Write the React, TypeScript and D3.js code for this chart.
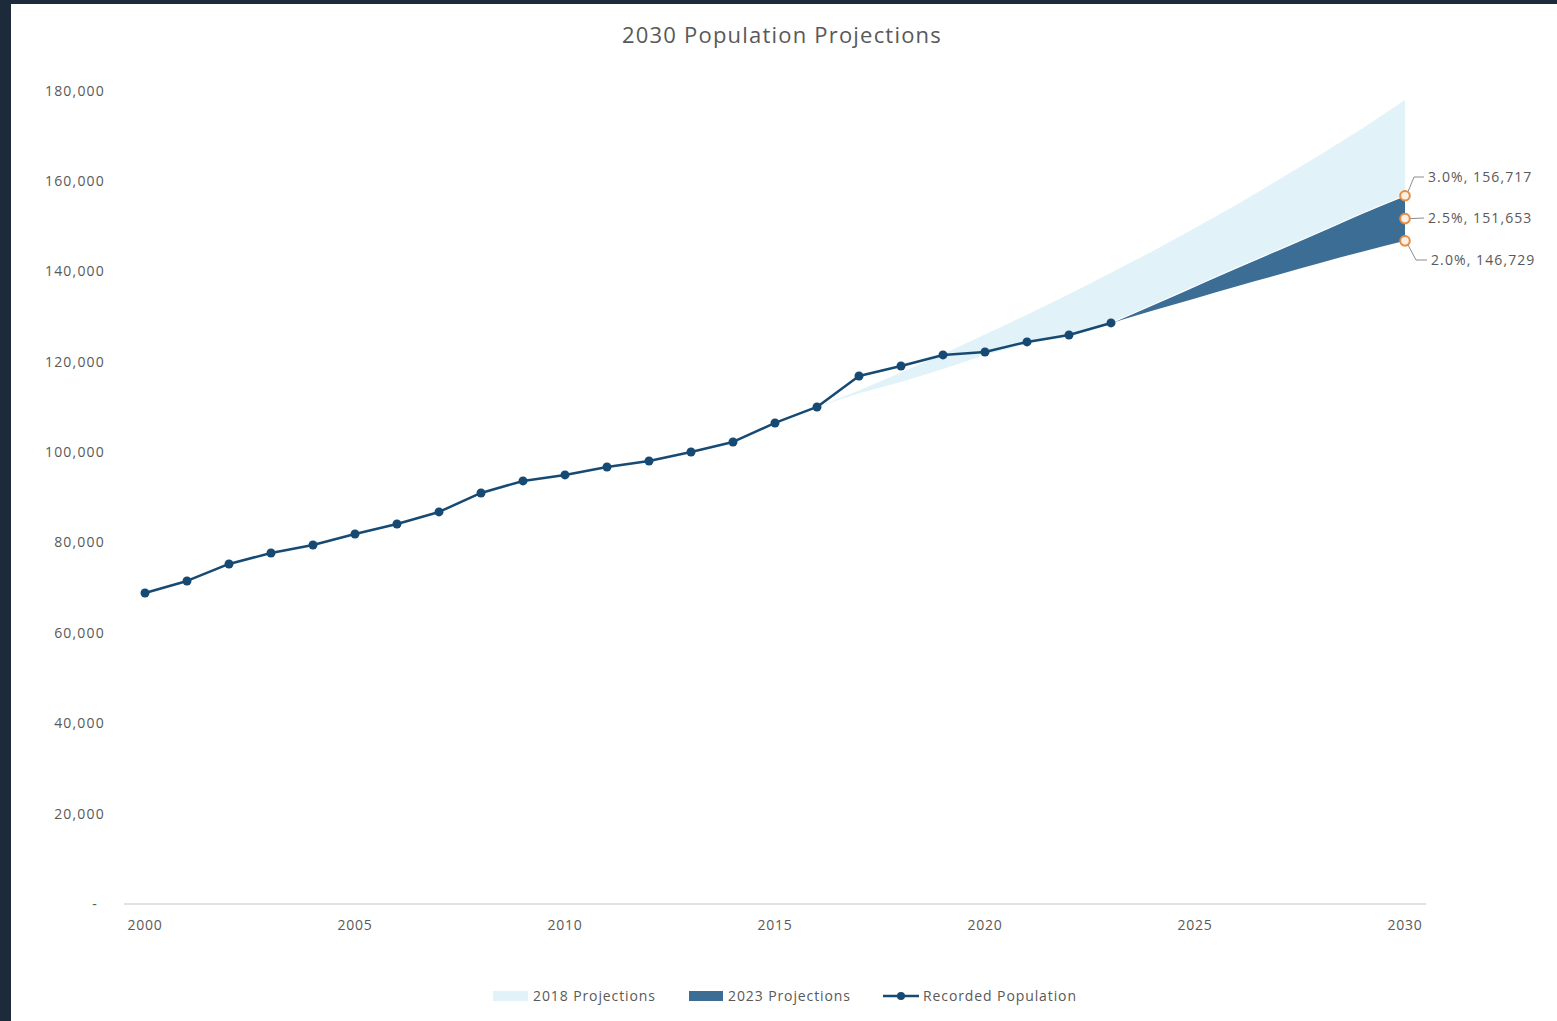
import React from "react";
import * as d3 from "d3";

const recordedYears = [2000, 2001, 2002, 2003, 2004, 2005, 2006, 2007, 2008, 2009, 2010, 2011, 2012, 2013, 2014, 2015, 2016, 2017, 2018, 2019, 2020, 2021, 2022, 2023];
const recordedPop = [68820, 71480, 75240, 77670, 79440, 81870, 84090, 86750, 90950, 93610, 94940, 96700, 98030, 100020, 102230, 106440, 109980, 116840, 119050, 121490, 122150, 124370, 125910, 128570];

const proj2018Years = [2016, 2017, 2018, 2019, 2020, 2021, 2022, 2023, 2024, 2025, 2026, 2027, 2028, 2029, 2030];
const proj2018Low = [109980, 113000, 115500, 118400, 121500, 124000, 125600, 128300, 131900, 135300, 138700, 142000, 145300, 148600, 151653];
const proj2018High = [109980, 113600, 117600, 121700, 126000, 130400, 134900, 139700, 144500, 149600, 154800, 160300, 165900, 171700, 177900];

const proj2023Years = [2023, 2024, 2025, 2026, 2027, 2028, 2029, 2030];
const proj2023Low = [128570, 131300, 134000, 136700, 139300, 141900, 144400, 146729];
const proj2023High = [128570, 132600, 136700, 140800, 144800, 148800, 152900, 156717];

const endRates = ["3.0%", "2.5%", "2.0%"];
const endValues = [156717, 151653, 146729];

const yTicks = [0, 20000, 40000, 60000, 80000, 100000, 120000, 140000, 160000, 180000];
const xTicks = [2000, 2005, 2010, 2015, 2020, 2025, 2030];

const legendItems = ["2018 Projections", "2023 Projections", "Recorded Population"];

export default function App() {
  const W = 1557;
  const H = 1021;
  const x = d3.scaleLinear().domain([2000, 2030]).range([145, 1405]);
  const y = d3.scaleLinear().domain([0, 180000]).range([904, 90.5]);

  const font = "'Open Sans', 'Noto Sans', sans-serif";
  const gray = "#595959";
  const lineColor = "#174a73";
  const darkBand = "#3c6d94";
  const lightBand = "#e2f2f9";
  const orange = "#e48d45";

  const band18 = d3
    .area<number>()
    .x((_, i) => x(proj2018Years[i]))
    .y0((_, i) => y(proj2018Low[i]))
    .y1((_, i) => y(proj2018High[i]))
    .curve(d3.curveLinear)(proj2018Years);

  const band23 = d3
    .area<number>()
    .x((_, i) => x(proj2023Years[i]))
    .y0((_, i) => y(proj2023Low[i]))
    .y1((_, i) => y(proj2023High[i]))
    .curve(d3.curveMonotoneX)(proj2023Years);

  const band23Top = d3
    .line<number>()
    .x((_, i) => x(proj2023Years[i]))
    .y((_, i) => y(proj2023High[i]))
    .curve(d3.curveMonotoneX)(proj2023Years);

  const recLine = d3
    .line<number>()
    .x((_, i) => x(recordedYears[i]))
    .y((_, i) => y(recordedPop[i]))(recordedYears);

  const fmt = d3.format(",");
  const x2030 = x(2030);

  const labelY = [177, 218, 260];
  const labelX = [1428, 1428, 1431];

  return (
    <svg width={W} height={H} style={{ position: "absolute", left: 0, top: 0 }} fontFamily={font}>
      <rect x={0} y={0} width={W} height={H} fill="#1d2a3a" />
      <rect x={11} y={4} width={W - 11} height={H - 4} fill="#ffffff" />

      <text x={782} y={43} textAnchor="middle" fontSize={22} fill={gray} letterSpacing={1.2}>
        2030 Population Projections
      </text>

      {yTicks.map((t) => (
        <text
          key={t}
          x={t === 0 ? 98 : 105}
          y={y(t) + 5}
          textAnchor="end"
          fontSize={14}
          fill={gray}
          letterSpacing={1.2}
        >
          {t === 0 ? "-" : fmt(t)}
        </text>
      ))}

      <line x1={124} x2={1426} y1={y(0)} y2={y(0)} stroke="#d9d9d9" strokeWidth={1.5} />
      {xTicks.map((t) => (
        <text key={t} x={x(t)} y={930} textAnchor="middle" fontSize={14} fill={gray} letterSpacing={0.8}>
          {t}
        </text>
      ))}

      <path d={band18 || ""} fill={lightBand} />
      <path d={band23 || ""} fill={darkBand} />
      <path d={band23Top || ""} fill="none" stroke="#ffffff" strokeWidth={1.2} />

      <path d={recLine || ""} fill="none" stroke={lineColor} strokeWidth={2.5} strokeLinejoin="round" />
      {recordedYears.map((yr, i) => (
        <circle key={yr} cx={x(yr)} cy={y(recordedPop[i])} r={4.5} fill={lineColor} />
      ))}

      {endValues.map((v, i) => {
        const cy = y(v);
        const ly = labelY[i];
        let d = "";
        if (i === 0) d = `M${x2030 + 3},${cy - 4} L${x2030 + 9},${ly} L${labelX[i] - 4},${ly}`;
        else if (i === 1) d = `M${x2030 + 5},${cy} L${labelX[i] - 4},${ly}`;
        else d = `M${x2030 + 3},${cy + 4} L${x2030 + 11},${ly} L${labelX[i] - 4},${ly}`;
        return (
          <g key={i}>
            <path d={d} fill="none" stroke="#8c8c8c" strokeWidth={1} />
            <circle cx={x2030} cy={cy} r={4.8} fill="#fbeee2" stroke={orange} strokeWidth={2} />
            <text x={labelX[i]} y={ly + 5} fontSize={14} fill={gray} letterSpacing={1.1}>
              {`${endRates[i]}, ${fmt(v)}`}
            </text>
          </g>
        );
      })}

      <rect x={493} y={991} width={35} height={10} fill={lightBand} />
      <text x={533} y={1001} fontSize={14} fill={gray} letterSpacing={0.9}>{legendItems[0]}</text>
      <rect x={689} y={991} width={34} height={10} fill={darkBand} />
      <text x={728} y={1001} fontSize={14} fill={gray} letterSpacing={0.9}>{legendItems[1]}</text>
      <line x1={883} x2={919} y1={996} y2={996} stroke={lineColor} strokeWidth={2.5} />
      <circle cx={901} cy={996} r={4} fill={lineColor} />
      <text x={923} y={1001} fontSize={14} fill={gray} letterSpacing={0.9}>{legendItems[2]}</text>
    </svg>
  );
}
